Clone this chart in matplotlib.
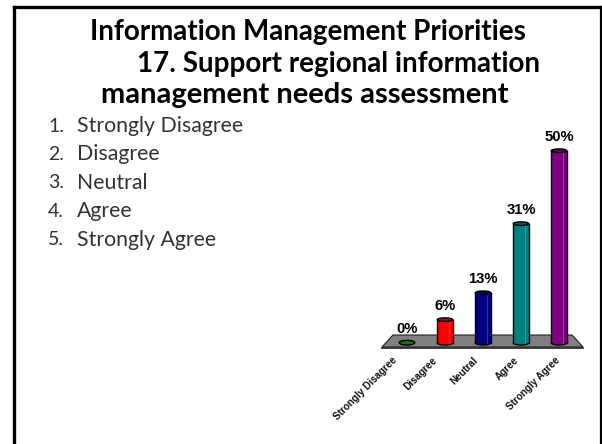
import matplotlib
matplotlib.use('Agg')
import matplotlib.pyplot as plt
from matplotlib.patches import Ellipse, Polygon

categories = ['Strongly Disagree', 'Disagree', 'Neutral', 'Agree', 'Strongly Agree']
values = [0, 6, 13, 31, 50]
colors = ['#008000', '#ff0000', '#000080', '#008080', '#800080']
top_colors = ['#006000', '#c00000', '#000060', '#006060', '#600060']
title_lines = ['Information Management Priorities',
               '17. Support regional information',
               'management needs assessment']
W, H = 602, 444

fig = plt.figure(figsize=(W / 100, H / 100), dpi=100)

# whole figure axes, scaled so bars land on the slide position
px_per_cat = 38.0
px_per_pct = 3.84
x0, y0 = 407.0, 342.7
ax = fig.add_axes([0, 0, 1, 1])
ax.set_xlim(-x0 / px_per_cat, (W - x0) / px_per_cat)
ax.set_ylim((y0 - H) / px_per_pct, y0 / px_per_pct)
ax.axis('off')

# overlay in pixels for slide furniture
pix = fig.add_axes([0, 0, 1, 1], zorder=-1)
pix.set_xlim(0, W)
pix.set_ylim(H, 0)
pix.axis('off')

# slide frame, open at the bottom
pix.plot([13.5, 13.5], [H + 5, 7.5], color='black', lw=2.4, solid_capstyle='projecting')
pix.plot([13.5, 600.5], [7.5, 7.5], color='black', lw=2.4, solid_capstyle='projecting')
pix.plot([600.5, 600.5], [7.5, H + 5], color='black', lw=1.6)

# title
pix.text(90, 32, title_lines[0], ha='left', va='center', fontsize=20,
         fontweight='bold', family='Lato')
pix.text(137, 64, title_lines[1], ha='left', va='center', fontsize=20,
         fontweight='bold', family='Lato')
pix.text(101, 95, title_lines[2], ha='left', va='center', fontsize=21,
         fontweight='bold', family='Lato')

# numbered list
for i, cat in enumerate(categories):
    y = 126 + i * 28.4
    pix.text(48, y, '%d.' % (i + 1), va='center', fontsize=14, family='Lato', color='#333333')
    pix.text(77, y, cat, va='center', fontsize=15.3, family='Lato', color='#333333')

# floor of the 3d chart
pix.add_patch(Polygon([(382, 347), (583, 347), (572, 335), (393, 335)], closed=True,
                      facecolor='#808080', edgecolor='#222222', lw=0.8))
pix.plot([382, 583], [347.5, 347.5], color='#222222', lw=1.2)

bar_w = 15.5 / px_per_cat
ell_h = 3.6 / px_per_pct
xs = list(range(len(values)))

for i in xs:
    v = values[i]
    ax.add_patch(Ellipse((i, 0), bar_w, ell_h * 1.3, facecolor=colors[i], edgecolor='black', lw=1.0, zorder=2))
    if v > 0:
        ax.bar(i, v, width=bar_w, color=colors[i], edgecolor='none', zorder=3)
        ax.plot([i - bar_w / 2, i - bar_w / 2], [0, v], color='black', lw=1.0, zorder=4)
        ax.plot([i + bar_w / 2, i + bar_w / 2], [0, v], color='black', lw=1.0, zorder=4)
        # cylinder highlight
        ax.plot([i + bar_w * 0.28, i + bar_w * 0.28], [0, v], color='white', alpha=0.2, lw=0.8, zorder=4)
        ax.add_patch(Ellipse((i, v), bar_w, ell_h, facecolor=top_colors[i], edgecolor='black', lw=1.0, zorder=5))
    ax.text(i, v + 1.8, '%d%%' % v, ha='center', va='bottom', fontsize=10.7,
            fontweight='bold', family='Liberation Sans', zorder=6)
    # labels are spaced a bit wider than the bars
    ax.text(-0.41 + 1.0725 * i, -3.3, categories[i], rotation=45, rotation_mode='anchor', ha='right', va='top',
            fontsize=7.1, fontweight='bold', family='Liberation Sans', color='#111111')

fig.savefig('out.png', dpi=100)
